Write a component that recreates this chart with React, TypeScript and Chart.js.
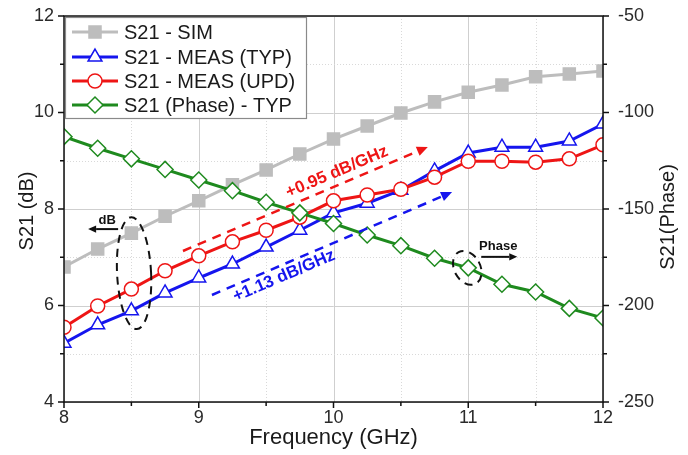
import React, { useEffect, useRef } from 'react';
import { Chart, registerables } from 'chart.js';

Chart.register(...registerables);

// ---------- data ----------
const freqGHz = [8, 8.25, 8.5, 8.75, 9, 9.25, 9.5, 9.75, 10, 10.25, 10.5, 10.75, 11, 11.25, 11.5, 11.75, 12];
const simDb = [6.8, 7.17, 7.5, 7.85, 8.17, 8.5, 8.81, 9.14, 9.45, 9.72, 9.99, 10.22, 10.42, 10.57, 10.74, 10.8, 10.86];
const typDb = [5.22, 5.6, 5.89, 6.26, 6.57, 6.86, 7.21, 7.56, 7.92, 8.12, 8.39, 8.79, 9.16, 9.28, 9.28, 9.41, 9.76];
const updDb = [5.55, 5.99, 6.34, 6.72, 7.03, 7.32, 7.56, 7.83, 8.17, 8.29, 8.41, 8.66, 8.99, 8.99, 8.97, 9.04, 9.33];
const phaseDeg = [-112.5, -118.5, -124, -129.5, -135, -140.5, -146.5, -152, -157.5, -163.5, -169, -175.5, -180.5, -189, -193, -201.5, -206.5];

const seriesNames = ['S21 - SIM', 'S21 - MEAS (TYP)', 'S21 - MEAS (UPD)', 'S21 (Phase) - TYP'];
const xTickValues = [8, 9, 10, 11, 12];
const leftTickValues = [4, 6, 8, 10, 12];
const rightTickValues = [-250, -200, -150, -100, -50];

const FONT = '"Liberation Sans", Arial, sans-serif';
const GRAY = '#bdbdbd';
const BLUE = '#1515ee';
const RED = '#ee1515';
const GREEN = '#1e8a1e';

function drawMarker(ctx: CanvasRenderingContext2D, style: string, x: number, y: number, r: number, fill: string, stroke: string) {
  ctx.save();
  ctx.beginPath();
  if (style === 'rect') {
    const s = r * Math.SQRT1_2;
    ctx.rect(x - s, y - s, 2 * s, 2 * s);
  } else if (style === 'triangle') {
    for (let i = 0; i < 3; i++) {
      const a = (i * 2 * Math.PI) / 3;
      const px = x + Math.sin(a) * r;
      const py = y - Math.cos(a) * r;
      if (i === 0) ctx.moveTo(px, py); else ctx.lineTo(px, py);
    }
    ctx.closePath();
  } else if (style === 'circle') {
    ctx.arc(x, y, r, 0, Math.PI * 2);
  } else {
    ctx.moveTo(x - r, y);
    ctx.lineTo(x, y - r);
    ctx.lineTo(x + r, y);
    ctx.lineTo(x, y + r);
    ctx.closePath();
  }
  ctx.fillStyle = fill;
  ctx.fill();
  ctx.lineWidth = 1.5;
  ctx.strokeStyle = stroke;
  ctx.stroke();
  ctx.restore();
}

function arrow(ctx: CanvasRenderingContext2D, x0: number, y0: number, x1: number, y1: number, color: string, width: number, dash: number[], head: number) {
  const ang = Math.atan2(y1 - y0, x1 - x0);
  const bx = x1 - Math.cos(ang) * head;
  const by = y1 - Math.sin(ang) * head;
  ctx.save();
  ctx.strokeStyle = color;
  ctx.lineWidth = width;
  ctx.setLineDash(dash);
  ctx.beginPath();
  ctx.moveTo(x0, y0);
  ctx.lineTo(bx, by);
  ctx.stroke();
  ctx.setLineDash([]);
  ctx.fillStyle = color;
  ctx.beginPath();
  ctx.moveTo(x1, y1);
  ctx.lineTo(bx + Math.cos(ang + Math.PI / 2) * head * 0.45, by + Math.sin(ang + Math.PI / 2) * head * 0.45);
  ctx.lineTo(bx - Math.cos(ang + Math.PI / 2) * head * 0.45, by - Math.sin(ang + Math.PI / 2) * head * 0.45);
  ctx.closePath();
  ctx.fill();
  ctx.restore();
}

const decor = {
  id: 'decor',
  beforeDatasetsDraw(chart: any) {
    const { ctx, chartArea: a, scales } = chart;
    const sx = scales.x, sy = scales.y;
    ctx.save();
    ctx.lineWidth = 1;
    for (let v = 8; v <= 12.001; v += 0.5) {
      const px = Math.round(sx.getPixelForValue(v)) + 0.5;
      const major = Math.abs(v - Math.round(v)) < 1e-6;
      ctx.strokeStyle = major ? '#cfcfcf' : '#d9d9d9';
      ctx.setLineDash(major ? [] : [1, 2]);
      ctx.beginPath();
      ctx.moveTo(px, a.top);
      ctx.lineTo(px, a.bottom);
      ctx.stroke();
    }
    for (let v = 4; v <= 12; v += 1) {
      const py = Math.round(sy.getPixelForValue(v)) + 0.5;
      const major = v % 2 === 0;
      ctx.strokeStyle = major ? '#cfcfcf' : '#d9d9d9';
      ctx.setLineDash(major ? [] : [1, 2]);
      ctx.beginPath();
      ctx.moveTo(a.left, py);
      ctx.lineTo(a.right, py);
      ctx.stroke();
    }
    ctx.restore();
  },
  afterDatasetsDraw(chart: any) {
    const { ctx, chartArea: a, scales } = chart;
    const sx = scales.x, sy = scales.y, sr = scales.y1;
    ctx.save();
    // frame
    ctx.strokeStyle = '#111';
    ctx.lineWidth = 1.5;
    ctx.strokeRect(a.left, a.top, a.right - a.left, a.bottom - a.top);
    // ticks
    ctx.lineWidth = 1.5;
    ctx.beginPath();
    for (let v = 8; v <= 12.001; v += 0.5) {
      const px = sx.getPixelForValue(v);
      const major = Math.abs(v - Math.round(v)) < 1e-6;
      ctx.moveTo(px, a.bottom);
      ctx.lineTo(px, a.bottom + (major ? 6 : 4));
    }
    for (let v = 4; v <= 12; v += 1) {
      const py = sy.getPixelForValue(v);
      ctx.moveTo(a.left, py);
      ctx.lineTo(a.left - (v % 2 === 0 ? 6 : 4), py);
    }
    for (let v = -250; v <= -50; v += 25) {
      const py = sr.getPixelForValue(v);
      ctx.moveTo(a.right, py);
      ctx.lineTo(a.right + (v % 50 === 0 ? 6 : 4), py);
    }
    ctx.stroke();

    // axis titles
    ctx.fillStyle = '#1a1a1a';
    ctx.textAlign = 'center';
    ctx.textBaseline = 'middle';
    ctx.font = `22px ${FONT}`;
    ctx.fillText('Frequency (GHz)', (a.left + a.right) / 2, 438);
    ctx.font = `20px ${FONT}`;
    ctx.save();
    ctx.translate(27, 211);
    ctx.rotate(-Math.PI / 2);
    ctx.fillText('S21 (dB)', 0, 0);
    ctx.restore();
    ctx.save();
    ctx.translate(668, 217);
    ctx.rotate(-Math.PI / 2);
    ctx.fillText('S21(Phase)', 0, 0);
    ctx.restore();

    // slope annotations
    const P = (x: number, y: number) => [sx.getPixelForValue(x), sy.getPixelForValue(y)];
    const [r0x, r0y] = P(8.883, 7.13);
    const [r1x, r1y] = P(10.70, 9.285);
    arrow(ctx, r0x, r0y, r1x, r1y, RED, 2.5, [9, 7], 11);
    const [b0x, b0y] = P(9.098, 6.218);
    const [b1x, b1y] = P(10.88, 8.35);
    arrow(ctx, b0x, b0y, b1x, b1y, BLUE, 2.5, [9, 7], 11);

    ctx.font = `bold 17px ${FONT}`;
    const angR = Math.atan2(r1y - r0y, r1x - r0x);
    const [rtx, rty] = P(10.026, 8.767);
    ctx.save();
    ctx.translate(rtx, rty);
    ctx.rotate(angR);
    ctx.fillStyle = RED;
    ctx.fillText('+0.95 dB/GHz', 0, 0);
    ctx.restore();
    const angB = Math.atan2(b1y - b0y, b1x - b0x);
    const [btx, bty] = P(9.633, 6.61);
    ctx.save();
    ctx.translate(btx, bty);
    ctx.rotate(angB);
    ctx.fillStyle = BLUE;
    ctx.fillText('+1.13 dB/GHz', 0, 0);
    ctx.restore();

    // dashed ellipses
    ctx.strokeStyle = '#111';
    ctx.lineWidth = 2;
    ctx.setLineDash([8, 6]);
    const [e1x, e1y] = P(8.52, 6.67);
    ctx.beginPath();
    ctx.ellipse(e1x, e1y, 17, 56, -0.05, 0, Math.PI * 2);
    ctx.stroke();
    const e2x = sx.getPixelForValue(11);
    const e2y = sr.getPixelForValue(-180.5);
    ctx.beginPath();
    ctx.ellipse(e2x - 1, e2y, 13, 18, -0.5, 0, Math.PI * 2);
    ctx.stroke();
    ctx.setLineDash([]);

    // dB / Phase labels with arrows
    ctx.font = `bold 13px ${FONT}`;
    ctx.fillStyle = '#111';
    const [dbx, dby] = P(8.32, 7.77);
    ctx.fillText('dB', dbx, dby);
    arrow(ctx, dbx + 11, dby + 9, dbx - 19, dby + 9, '#111', 2, [], 8);
    const phx = e2x + 30, phy = e2y - 21;
    ctx.fillText('Phase', phx, phy);
    arrow(ctx, phx - 17, phy + 10, phx + 19, phy + 10, '#111', 2, [], 8);

    // legend
    const lx = 65, ly = 17, lw = 241, lh = 101;
    ctx.fillStyle = '#fff';
    ctx.fillRect(lx, ly, lw, lh);
    ctx.strokeStyle = '#8a8a8a';
    ctx.lineWidth = 1.2;
    ctx.strokeRect(lx + 0.5, ly + 0.5, lw, lh);
    const styles = ['rect', 'triangle', 'circle', 'rectRot'];
    const colors = [GRAY, BLUE, RED, GREEN];
    const rows = [32, 57, 81, 105];
    for (let i = 0; i < 4; i++) {
      const yy = rows[i];
      ctx.strokeStyle = colors[i];
      ctx.lineWidth = 3;
      ctx.beginPath();
      ctx.moveTo(72, yy);
      ctx.lineTo(118, yy);
      ctx.stroke();
      drawMarker(ctx, styles[i], 95, yy, i === 0 ? 8.5 : i === 2 ? 7 : 8, i === 0 ? GRAY : '#fff', colors[i]);
      ctx.fillStyle = '#1a1a1a';
      ctx.font = `20px ${FONT}`;
      ctx.textAlign = 'left';
      ctx.fillText(seriesNames[i], 124, yy + 1);
    }
    ctx.restore();
  },
};

function zeroPad(s: any) {
  s.paddingTop = 0;
  s.paddingBottom = 0;
  s.paddingLeft = 0;
  s.paddingRight = 0;
}

export default function App() {
  const ref = useRef<HTMLCanvasElement | null>(null);
  useEffect(() => {
    if (!ref.current) return;
    const mk = (label: string, data: number[], color: string, style: string, r: number, fill: string, axis: string, order: number) => ({
      label,
      data: freqGHz.map((f, i) => ({ x: f, y: data[i] })),
      borderColor: color,
      borderWidth: 3,
      pointStyle: style,
      pointRadius: r,
      pointBackgroundColor: fill,
      pointBorderColor: color,
      pointBorderWidth: 1.5,
      yAxisID: axis,
      order,
      tension: 0,
    });
    const chart = new Chart(ref.current, {
      type: 'line',
      data: {
        datasets: [
          mk(seriesNames[0], simDb, GRAY, 'rect', 8.5, GRAY, 'y', 3),
          mk(seriesNames[1], typDb, BLUE, 'triangle', 8, '#fff', 'y', 2),
          mk(seriesNames[2], updDb, RED, 'circle', 7, '#fff', 'y', 1),
          mk(seriesNames[3], phaseDeg, GREEN, 'rectRot', 8, '#fff', 'y1', 0),
        ] as any,
      },
      options: {
        responsive: false,
        animation: false,
        devicePixelRatio: 1,
        layout: { padding: { top: 16, left: 0, right: 0, bottom: 0 } },
        plugins: { legend: { display: false }, tooltip: { enabled: false } },
        scales: {
          x: {
            type: 'linear',
            min: 8,
            max: 12,
            afterFit: (s: any) => { s.height = 53; zeroPad(s); },
            afterBuildTicks: (s: any) => { s.ticks = xTickValues.map((v) => ({ value: v })); },
            grid: { display: false },
            border: { display: false },
            ticks: { font: { size: 18, family: FONT }, color: '#2a2a2a', padding: -3, maxRotation: 0 },
          },
          y: {
            type: 'linear',
            position: 'left',
            min: 4,
            max: 12,
            afterFit: (s: any) => { s.width = 64; zeroPad(s); },
            afterBuildTicks: (s: any) => { s.ticks = leftTickValues.map((v) => ({ value: v })); },
            grid: { display: false },
            border: { display: false },
            ticks: { font: { size: 18, family: FONT }, color: '#2a2a2a', padding: 2 },
          },
          y1: {
            type: 'linear',
            position: 'right',
            min: -250,
            max: -50,
            afterFit: (s: any) => { s.width = 85; zeroPad(s); },
            afterBuildTicks: (s: any) => { s.ticks = rightTickValues.map((v) => ({ value: v })); },
            grid: { display: false },
            border: { display: false },
            ticks: { font: { size: 18, family: FONT }, color: '#2a2a2a', padding: 7 },
          },
        },
      } as any,
      plugins: [decor],
    });
    return () => chart.destroy();
  }, []);
  return (
    <div style={{ position: 'absolute', left: 0, top: 0, width: 688, height: 455, background: '#fff' }}>
      <canvas ref={ref} width={688} height={455} style={{ display: 'block' }} />
    </div>
  );
}
